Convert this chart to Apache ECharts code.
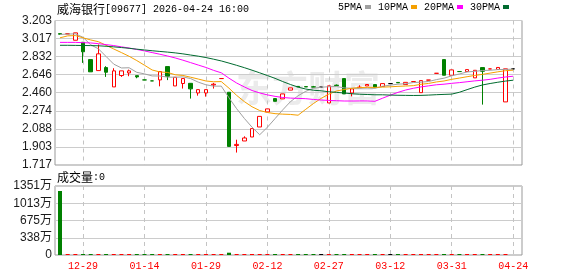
<!DOCTYPE html>
<html><head><meta charset="utf-8">
<script src="https://cdn.jsdelivr.net/npm/echarts@6/dist/echarts.min.js"></script>
<style>html,body{margin:0;padding:0;background:#fff}#c{width:578px;height:276px}</style>
</head><body><div id="c"></div>
<script>
// ---- data ----
const stockName = '威海银行';
const stockCode = '[09677]';
const stamp = '2026-04-24 16:00';
const volCaption = '成交量';
const volLast = '0';
const legendNames = ['5PMA', '10PMA', '20PMA', '30PMA'];
const xTickLabels = ['12-29', '01-14', '01-29', '02-12', '02-27', '03-12', '03-31', '04-24'];
const xTickIndex = [3, 11, 19, 27, 35, 43, 51, 59];
const priceTicks = ['1.717', '1.903', '2.088', '2.274', '2.460', '2.646', '2.832', '3.017', '3.203'];
const volTicks = ['0', '338万', '675万', '1013万', '1351万'];

const opens = [3.068,3.066,3.000,2.979,2.801,2.688,2.719,2.520,2.637,2.664,
 2.636,2.592,2.582,2.592,2.729,2.530,2.555,2.557,2.458,2.458,
 2.540,2.606,2.465,1.917,1.964,2.005,2.108,2.263,2.400,2.397,
 2.487,2.525,2.523,2.521,2.518,2.355,2.538,2.606,2.458,2.512,
 2.530,2.544,2.524,2.554,2.566,2.544,2.575,2.461,2.590,2.660,
 2.801,2.640,2.678,2.678,2.613,2.719,2.705,2.700,2.366,2.706];
const closes = [3.062,3.066,3.076,2.881,2.675,2.860,2.671,2.685,2.685,2.685,
 2.623,2.592,2.582,2.678,2.629,2.619,2.606,2.500,2.492,2.492,
 2.548,2.606,1.908,1.929,1.995,2.091,2.217,2.294,2.372,2.448,
 2.510,2.521,2.520,2.518,2.518,2.531,2.533,2.448,2.500,2.518,
 2.545,2.517,2.554,2.554,2.562,2.567,2.575,2.585,2.590,2.660,
 2.640,2.695,2.678,2.698,2.691,2.681,2.705,2.720,2.706,2.706];
const lows = [3.062,3.066,3.000,2.767,2.675,2.688,2.623,2.520,2.623,2.630,
 2.609,2.592,2.582,2.526,2.590,2.530,2.503,2.400,2.430,2.420,
 2.503,2.606,1.908,1.845,1.964,2.005,2.108,2.263,2.372,2.397,
 2.487,2.521,2.520,2.518,2.518,2.355,2.533,2.448,2.423,2.512,
 2.530,2.517,2.524,2.554,2.562,2.544,2.575,2.461,2.590,2.660,
 2.640,2.640,2.678,2.678,2.613,2.338,2.705,2.700,2.366,2.706];
const highs = [3.068,3.066,3.076,2.979,2.801,2.956,2.733,2.712,2.685,2.698,
 2.636,2.592,2.582,2.678,2.729,2.619,2.606,2.557,2.492,2.492,
 2.561,2.606,2.465,1.977,2.012,2.091,2.217,2.294,2.400,2.448,
 2.510,2.525,2.523,2.530,2.518,2.531,2.545,2.606,2.500,2.537,
 2.545,2.544,2.554,2.554,2.566,2.567,2.575,2.585,2.590,2.660,
 2.801,2.695,2.678,2.698,2.691,2.719,2.705,2.720,2.706,2.706];
// volume in 万
const volumes = [1253,6,5,8,9,7,6,5,4,6,
 5,4,6,7,5,6,4,5,6,5,
 4,6,45,7,6,5,6,8,5,6,
 5,4,5,6,4,7,5,6,5,4,
 6,5,4,5,6,5,4,6,5,4,
 7,6,5,4,6,8,5,4,6,0];
const ma5 = [3.060,3.063,3.066,3.030,2.953,2.912,2.833,2.754,2.715,2.717,
 2.670,2.654,2.633,2.632,2.621,2.620,2.623,2.606,2.569,2.542,
 2.528,2.528,2.408,2.296,2.196,2.106,2.028,2.105,2.194,2.284,
 2.368,2.429,2.475,2.505,2.517,2.522,2.524,2.510,2.506,2.506,
 2.509,2.505,2.527,2.538,2.548,2.553,2.565,2.569,2.576,2.595,
 2.610,2.634,2.653,2.674,2.680,2.689,2.691,2.698,2.700,2.703];
const ma10 = [3.025,3.045,3.048,3.025,3.003,2.985,2.948,2.910,2.873,2.835,
 2.791,2.743,2.694,2.674,2.669,2.645,2.638,2.620,2.601,2.581,
 2.573,2.575,2.507,2.433,2.369,2.316,2.277,2.257,2.245,2.240,
 2.237,2.229,2.290,2.349,2.402,2.446,2.478,2.493,2.506,2.513,
 2.516,2.515,2.518,2.521,2.526,2.529,2.533,2.547,2.556,2.571,
 2.581,2.598,2.611,2.625,2.638,2.649,2.662,2.675,2.687,2.692];
const ma20 = [2.978,2.978,2.978,2.975,2.972,2.965,2.955,2.945,2.932,2.920,
 2.905,2.890,2.873,2.856,2.838,2.818,2.795,2.770,2.745,2.720,
 2.690,2.665,2.610,2.560,2.520,2.483,2.458,2.438,2.423,2.411,
 2.405,2.402,2.399,2.391,2.385,2.381,2.378,2.375,2.375,2.376,
 2.376,2.372,2.404,2.435,2.464,2.488,2.506,2.520,2.531,2.542,
 2.548,2.557,2.564,2.573,2.582,2.589,2.598,2.611,2.622,2.630];
const ma30 = [2.948,2.948,2.947,2.946,2.945,2.943,2.938,2.932,2.925,2.917,
 2.908,2.900,2.892,2.885,2.878,2.870,2.860,2.848,2.836,2.822,
 2.805,2.787,2.765,2.742,2.718,2.692,2.665,2.637,2.608,2.575,
 2.545,2.518,2.498,2.486,2.480,2.470,2.464,2.457,2.450,2.445,
 2.442,2.439,2.439,2.436,2.434,2.433,2.432,2.433,2.436,2.440,
 2.443,2.446,2.465,2.492,2.518,2.540,2.555,2.568,2.580,2.589];

// ---- styles ----
const RED = '#ff0000', GREEN = '#008000', BLACK = '#000000';
const maColors = ['#a0a0a0', '#f5a000', '#ff00ff', '#006b2f'];
const MONO = "'Liberation Mono', 'DejaVu Sans Mono', monospace";
const CJK = "'Noto Sans CJK SC', sans-serif";
const SANS = "'Liberation Sans', Arial, 'Noto Sans CJK SC', sans-serif";

function sign(i) {
  const o = opens[i], c = closes[i];
  if (c > o) return 1;
  if (c < o) return -1;
  if (i === 0) return 0;
  const p = closes[i - 1];
  return c > p ? 1 : (c < p ? -1 : 0);
}
function colOf(i) { const s = sign(i); return s > 0 ? RED : (s < 0 ? GREEN : BLACK); }

const candleData = opens.map((o, i) => {
  const col = colOf(i);
  const fill = sign(i) > 0 ? '#ffffff' : col;
  return { value: [i, o, closes[i], lows[i], highs[i]],
    itemStyle: { color: fill, color0: fill, borderColor: col, borderColor0: col, borderColorDoji: col } };
});
const volData = [];
volumes.forEach((v, i) => { if (v > 0) volData.push({ value: [i, v], itemStyle: { color: colOf(i) } }); });
const maSeries = [ma5, ma10, ma20, ma30].map((arr, k) => ({
  name: legendNames[k], type: 'line', xAxisIndex: 0, yAxisIndex: 0,
  data: arr.map((v, i) => [i, v]), showSymbol: false, symbol: 'none', z: 3,
  lineStyle: { width: 1, color: maColors[k] }, itemStyle: { color: maColors[k] }, animation: false
}));

const pMin = parseFloat(priceTicks[0]), pMax = parseFloat(priceTicks[priceTicks.length - 1]);
const pStep = (pMax - pMin) / (priceTicks.length - 1);
const vMax = parseFloat(volTicks[volTicks.length - 1]);
const vStep = vMax / (volTicks.length - 1);
const xMin = -0.65, xMax = 60.15;

const splitX = { show: true, lineStyle: { color: '#c4c4c4', type: [4, 4], width: 1 } };
const chart = echarts.init(document.getElementById('c'));
chart.setOption({
  animation: false,
  backgroundColor: '#ffffff',
  title: [
    { left: 57, top: 3, padding: 0, text: '{a|' + stockName + '}{b|' + stockCode + ' ' + stamp + '}',
      textStyle: { fontWeight: 'normal', rich: { a: { fontFamily: CJK, fontSize: 12, fontWeight: 'normal', color: '#000' }, b: { fontFamily: MONO, fontSize: 10, fontWeight: 'normal', color: '#000' } } } },
    { left: 57, top: 171, padding: 0, text: '{a|' + volCaption + '}{b|:' + volLast + '}',
      textStyle: { fontWeight: 'normal', rich: { a: { fontFamily: CJK, fontSize: 12, fontWeight: 'normal', color: '#000' }, b: { fontFamily: MONO, fontSize: 10, fontWeight: 'normal', color: '#000' } } } }
  ],
  legend: {
    data: legendNames.map(n => ({ name: n, icon: 'rect' })),
    left: 338, top: 2, padding: 0, align: 'right', itemWidth: 6, itemHeight: 4, itemGap: 7,
    textStyle: { fontFamily: MONO, fontSize: 10, color: '#000', padding: [0, -2, 0, 0] },
    selectedMode: false
  },
  graphic: [{
    type: 'text', left: 236, top: 70, z: 0, silent: true,
    style: { text: '东方财富', fontSize: 36, fontWeight: 'bold', fontFamily: CJK, fill: '#ebebeb' }
  }],
  grid: [
    { left: 55, top: 20.5, width: 467, height: 144.5, show: true, backgroundColor: 'transparent', borderColor: '#999999', borderWidth: 1, outerBoundsMode: 'none', containLabel: false },
    { left: 55, top: 186, width: 467, height: 69, show: true, backgroundColor: 'transparent', borderColor: '#999999', borderWidth: 1, outerBoundsMode: 'none', containLabel: false }
  ],
  xAxis: [
    { type: 'value', gridIndex: 0, min: xMin, max: xMax,
      axisLine: { show: false }, axisTick: { show: false, customValues: xTickIndex },
      axisLabel: { show: false, customValues: xTickIndex }, splitLine: splitX },
    { type: 'value', gridIndex: 1, min: xMin, max: xMax,
      axisLine: { show: false }, axisTick: { show: false, customValues: xTickIndex },
      axisLabel: { show: true, customValues: xTickIndex, margin: 6, color: RED, fontFamily: MONO, fontSize: 10,
        formatter: v => xTickLabels[xTickIndex.indexOf(Math.round(v))] || '' },
      splitLine: splitX }
  ],
  yAxis: [
    { type: 'value', gridIndex: 0, min: pMin, max: pMax, interval: pStep,
      axisLine: { show: false }, axisTick: { show: false },
      axisLabel: { margin: 3, color: '#1a1a1a', fontFamily: SANS, fontSize: 12,
        formatter: v => priceTicks[Math.round((v - pMin) / pStep)] },
      splitLine: { show: true, lineStyle: { color: '#cccccc', width: 1 } } },
    { type: 'value', gridIndex: 1, min: 0, max: vMax, interval: vStep,
      axisLine: { show: false }, axisTick: { show: false },
      axisLabel: { margin: 3, color: '#1a1a1a', fontFamily: SANS, fontSize: 12,
        formatter: v => volTicks[Math.round(v / vStep)] },
      splitLine: { show: true, lineStyle: { color: '#cccccc', width: 1 } } }
  ],
  series: [
    { name: 'K', type: 'candlestick', xAxisIndex: 0, yAxisIndex: 0, data: candleData,
      barWidth: 4, z: 2, itemStyle: { borderWidth: 1 } },
    ...maSeries,
    { name: 'VOL', type: 'bar', xAxisIndex: 1, yAxisIndex: 1, data: volData,
      barWidth: 4, barMinHeight: 1, z: 2 }
  ]
});
</script>
</body></html>
